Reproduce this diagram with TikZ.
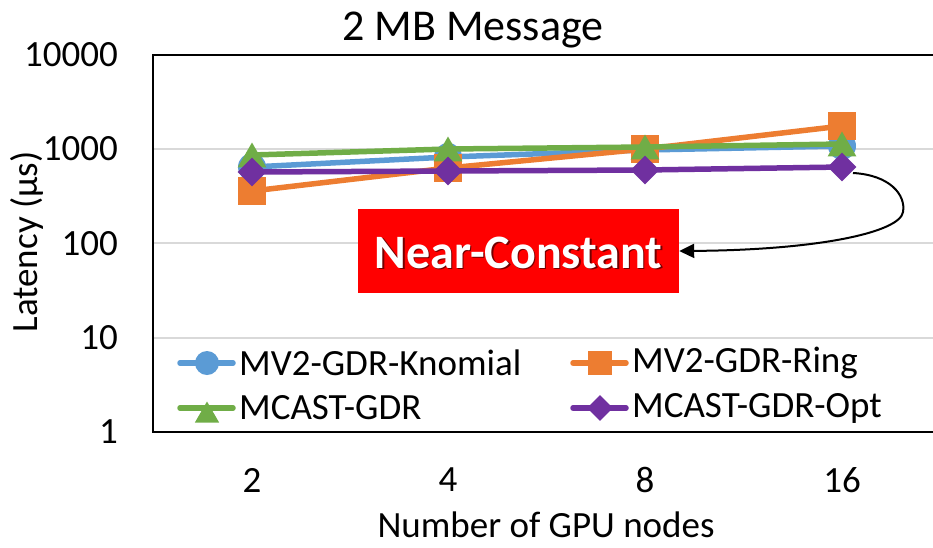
\documentclass[tikz,border=0pt]{standalone}
\usepackage{fontspec}
\setmainfont{Carlito}
\usetikzlibrary{shapes.geometric,arrows.meta}
\definecolor{sblue}{HTML}{5B9BD5}
\definecolor{sorange}{HTML}{ED7D31}
\definecolor{sgreen}{HTML}{70AD47}
\definecolor{spurple}{HTML}{7030A0}
\definecolor{gridgray}{HTML}{D9D9D9}
\definecolor{ncred}{HTML}{FF0000}
\begin{document}
\begin{tikzpicture}[x=1pt,y=-1pt,
  lbl/.style={inner sep=0pt,font=\fontsize{37}{44}\selectfont},
  gridln/.style={draw=gridgray,line width=2pt},
  axisln/.style={draw=black,line width=2.5pt},
  serline/.style={line width=5.5pt,line join=round,line cap=round},
  mcirc/.style={circle,fill=sblue,inner sep=0pt,minimum size=28pt},
  msq/.style={rectangle,fill=sorange,inner sep=0pt,minimum size=28pt},
  mtri/.style={regular polygon,regular polygon sides=3,fill=sgreen,inner sep=0pt,minimum size=33pt,yshift=-4pt},
  mdia/.style={diamond,fill=spurple,inner sep=0pt,minimum width=29pt,minimum height=29pt},
  lcirc/.style={mcirc,minimum size=24pt},
  lsq/.style={msq,minimum size=24pt},
  ltri/.style={mtri,minimum size=28pt,yshift=-3.5pt},
  ldia/.style={mdia,minimum width=26pt,minimum height=26pt}]
\useasboundingbox (0,0) rectangle (933,547);

% gridlines
\coordinate (g10a) at (153,337.7); \coordinate (g10b) at (933,337.7);
\coordinate (g100a) at (153,243.4); \coordinate (g100b) at (933,243.4);
\coordinate (g1000a) at (153,149.1); \coordinate (g1000b) at (933,149.1);
\draw[gridln] (g10a) -- (g10b);
\draw[gridln] (g100a) -- (g100b);
\draw[gridln] (g1000a) -- (g1000b);

% axes box
\coordinate (tr) at (934,55); \coordinate (tl) at (153,55);
\coordinate (bl) at (153,432); \coordinate (br) at (934,432);
\draw[axisln,line join=miter] (tr) -- (tl) -- (bl) -- (br);

% title
\node[inner sep=0pt,font=\fontsize{44}{52}\selectfont,anchor=base] (title) at (473,40) {2 MB Message};

% y tick labels
\node[lbl,anchor=east] (y1) at (118,432) {1};
\node[lbl,anchor=east] (y10) at (118,337.7) {10};
\node[lbl,anchor=east] (y100) at (118,243.4) {100};
\node[lbl,anchor=east] (y1000) at (118,149.1) {1000};
\node[lbl,anchor=east] (y10000) at (118,54.8) {10000};

% x tick labels
\node[lbl] (x2) at (252,480) {2};
\node[lbl] (x4) at (448,480) {4};
\node[lbl] (x8) at (645,480) {8};
\node[lbl] (x16) at (842,480) {16};

% axis titles
\node[lbl,anchor=base] (xlab) at (546,537) {Number of GPU nodes};
\node[lbl,rotate=90] (ylab) at (27,242) {Latency (µs)};

% data coordinates
\coordinate (k2) at (252,167); \coordinate (k4) at (448,157); \coordinate (k8) at (645,150); \coordinate (k16) at (842,146);
\coordinate (r2) at (252,191); \coordinate (r4) at (448,168); \coordinate (r8) at (645,149); \coordinate (r16) at (842,126);
\coordinate (g2) at (252,155); \coordinate (g4) at (448,149); \coordinate (g8) at (645,147); \coordinate (g16) at (842,144);
\coordinate (p2) at (252,172); \coordinate (p4) at (448,171); \coordinate (p8) at (645,170); \coordinate (p16) at (842,167);

% series: Knomial
\draw[serline,sblue] (k2) -- (k4) -- (k8) -- (k16);
\node[mcirc] (k2m) at (k2) {}; \node[mcirc] (k4m) at (k4) {}; \node[mcirc] (k8m) at (k8) {}; \node[mcirc] (k16m) at (k16) {};
% Ring
\draw[serline,sorange] (r2) -- (r4) -- (r8) -- (r16);
\node[msq] (r2m) at (r2) {}; \node[msq] (r4m) at (r4) {}; \node[msq] (r8m) at (r8) {}; \node[msq] (r16m) at (r16) {};
% MCAST-GDR
\draw[serline,sgreen] (g2) -- (g4) -- (g8) -- (g16);
\node[mtri] (g2m) at (g2) {}; \node[mtri] (g4m) at (g4) {}; \node[mtri] (g8m) at (g8) {}; \node[mtri] (g16m) at (g16) {};
% MCAST-GDR-Opt
\draw[serline,spurple] (p2) -- (p4) -- (p8) -- (p16);
\node[mdia] (p2m) at (p2) {}; \node[mdia] (p4m) at (p4) {}; \node[mdia] (p8m) at (p8) {}; \node[mdia] (p16m) at (p16) {};

% legend
\coordinate (l1a) at (180,363); \coordinate (l1b) at (233,363);
\coordinate (l2a) at (573,363); \coordinate (l2b) at (626,363);
\coordinate (l3a) at (180,408); \coordinate (l3b) at (233,408);
\coordinate (l4a) at (573,408); \coordinate (l4b) at (626,408);
\draw[serline,sblue] (l1a) -- (l1b); \node[lcirc] (l1m) at (207,363) {};
\draw[serline,sorange] (l2a) -- (l2b); \node[lsq] (l2m) at (600,363) {};
\draw[serline,sgreen] (l3a) -- (l3b); \node[ltri] (l3m) at (207,408) {};
\draw[serline,spurple] (l4a) -- (l4b); \node[ldia] (l4m) at (600,408) {};
\node[lbl,anchor=west] (l1t) at (239,363) {MV2-GDR-Knomial};
\node[lbl,anchor=west] (l2t) at (632,363) {MV2-GDR-Ring};
\node[lbl,anchor=west] (l3t) at (239,408) {MCAST-GDR};
\node[lbl,anchor=west] (l4t) at (632,408) {MCAST-GDR-Opt};

% Near-Constant box
\node[fill=ncred,minimum width=321pt,minimum height=84pt,inner sep=0pt] (nc) at (518.5,251) {};
\node[inner sep=0pt,font=\bfseries\fontsize{48}{52}\selectfont,text=black!55!red] (ncs) at (520,254) {Near-Constant};
\node[inner sep=0pt,font=\bfseries\fontsize{48}{52}\selectfont,text=white] (nct) at (518.5,252.5) {Near-Constant};

% arrow
\coordinate (a0) at (853,173);
\coordinate (a1) at (903,212);
\draw[line width=2pt,-{Triangle[length=15pt,width=14pt]}] (a0) .. controls (890,175) and (906,195) .. (a1) .. controls (900,232) and (820,250) .. (nc.east);
\end{tikzpicture}
\end{document}
